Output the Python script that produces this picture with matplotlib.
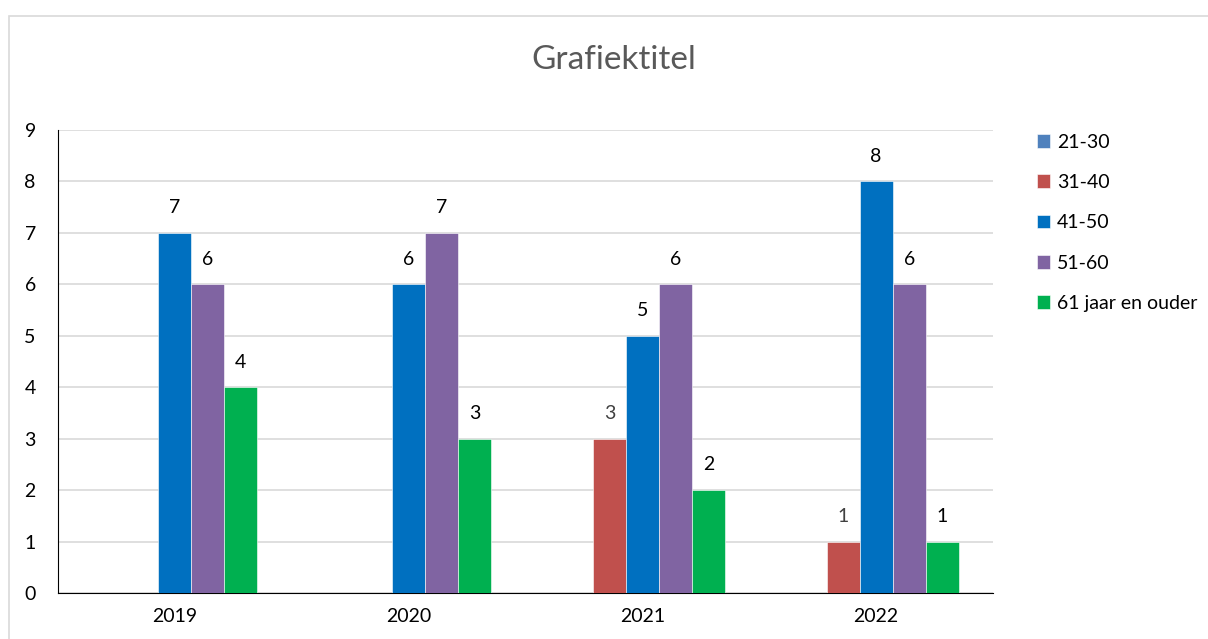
import numpy as np
import matplotlib.pyplot as plt
from matplotlib.patches import Rectangle

plt.rcParams['font.family'] = ['Lato', 'DejaVu Sans']

jaren = ['2019', '2020', '2021', '2022']
reeksen = ['21-30', '31-40', '41-50', '51-60', '61 jaar en ouder']
waarden_21_30 = [0, 0, 0, 0]
waarden_31_40 = [0, 0, 3, 1]
waarden_41_50 = [7, 6, 5, 8]
waarden_51_60 = [6, 7, 6, 6]
waarden_61_plus = [4, 3, 2, 1]

kleuren = ['#4F81BD', '#C0504D', '#0070C0', '#8064A2', '#00B050']
label_kleuren = ['#404040', '#404040', 'black', 'black', 'black']

alle = [waarden_21_30, waarden_31_40, waarden_41_50, waarden_51_60, waarden_61_plus]

fig = plt.figure(figsize=(12.08, 6.39), dpi=100)
# rand om de grafiek
fig.patches.append(Rectangle((9 / 1208, -0.1), 1.2, 1 - 16 / 639 + 0.1,
                             transform=fig.transFigure, fill=False,
                             edgecolor='#D9D9D9', lw=1.2))

ax = fig.add_axes([58 / 1208, 1 - 593 / 639, (993 - 58) / 1208, (593 - 130) / 639])

x = np.arange(len(jaren))
w = 0.1412
for i, (naam, vals) in enumerate(zip(reeksen, alle)):
    pos = x + (i - 2) * w
    ax.bar(pos, vals, width=w, color=kleuren[i], edgecolor='white',
           linewidth=0.4, label=naam, zorder=3)
    for xp, v in zip(pos, vals):
        if v > 0:
            ax.annotate(str(v), (xp, v), xytext=(0, 12), textcoords='offset points',
                        ha='center', va='bottom', fontsize=14, color=label_kleuren[i])

ax.set_xlim(-0.5, 3.5)
ax.set_ylim(0, 9)
ax.set_yticks(range(10))
ax.set_xticks(x)
ax.set_xticklabels(jaren)
ax.yaxis.grid(True, color='#D9D9D9', lw=1.2)
ax.set_axisbelow(True)
for s in ['top', 'right']:
    ax.spines[s].set_visible(False)
ax.spines['left'].set_color('black')
ax.spines['bottom'].set_color('black')
ax.tick_params(axis='both', length=0, labelsize=14, colors='black')
ax.tick_params(axis='y', pad=16)
ax.tick_params(axis='x', pad=11)

fig.text(614 / 1208, 1 - 60 / 639, 'Grafiektitel', ha='center', va='center',
         fontsize=24, color='#595959')

leg = ax.legend(loc='upper left', bbox_to_anchor=(1.028, 1.03), frameon=False,
                fontsize=14, handlelength=0.7, handleheight=0.7,
                handletextpad=0.35, labelspacing=1.2)

fig.savefig('out.png', dpi=100)
